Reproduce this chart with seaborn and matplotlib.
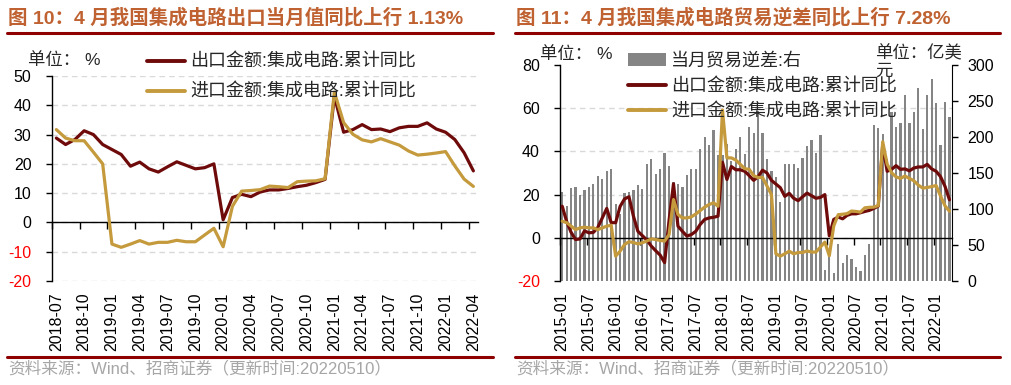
import numpy as np
import pandas as pd
import seaborn as sns
import matplotlib.pyplot as plt
from matplotlib.lines import Line2D
from matplotlib.patches import Patch

sns.set_style('white')
plt.rcParams['font.family'] = ['Liberation Sans', 'Noto Sans CJK SC']

# ---------------- data ----------------
# fig 10: 2018-07 .. 2022-04, cumulative yoy (%)
months_10 = pd.period_range('2018-07', '2022-04', freq='M').strftime('%Y-%m')
exp_10 = [28.8, 26.6, 28.3, 31.3, 30.0, 26.6, 24.9, 23.2, 19.2, 20.6,
          18.3, 17.2, 19.0, 20.7, 19.5, 18.3, 18.7, 20.0, 0.9, 8.5,
          9.6, 8.8, 10.4, 11.1, 11.1, 11.6, 12.2, 12.7, 13.6, 14.7,
          43.1, 30.8, 31.7, 33.4, 31.7, 31.9, 31.0, 32.3, 32.8, 32.8,
          34.0, 31.9, 30.8, 28.3, 23.8, 17.6]
imp_10 = [31.7, 28.8, 27.9, 27.9, 24.0, 20.0, -7.4, -8.5, -7.4, -6.2,
          -7.4, -6.8, -6.8, -6.1, -6.6, -6.6, -4.3, -2.0, -8.3, 5.5,
          10.7, 10.9, 11.2, 12.4, 12.2, 11.9, 13.9, 14.1, 14.2, 14.9,
          44.5, 34.1, 30.1, 28.2, 27.5, 28.6, 27.5, 26.4, 24.4, 23.0,
          23.3, 23.7, 24.2, 19.3, 14.8, 12.3]
ticks_10 = ['2018-07', '2018-10', '2019-01', '2019-04', '2019-07', '2019-10',
            '2020-01', '2020-04', '2020-07', '2020-10', '2021-01', '2021-04',
            '2021-07', '2021-10', '2022-01', '2022-04']

# fig 11: 2015-01 .. 2022-04 (from 2018-07 on same series as fig 10)
months_11 = pd.period_range('2015-01', '2022-04', freq='M').strftime('%Y-%m')
exp_11_early = [14.6, 7.5, 2.5, -0.8, -0.5, 3.2, 2.3, 2.5, 4.8, 9.2,
                13.6, 7.0, 7.0, 14.5, 18.0, 19.0, 10.0, 3.0, 1.0, -1.0,
                -3.8, -6.0, -8.0, -11.5, 8.0, 25.0, 5.4, 3.0, 0.8, 1.5,
                3.0, 6.2, 8.5, 9.2, 9.5, 10.0, 35.0, 27.0, 33.0, 31.5,
                31.5, 30.8]
imp_11_early = [7.7, 7.0, 5.4, 3.8, 4.6, 4.9, 4.6, 4.6, 3.8, 4.6,
                5.4, 5.8, -8.5, -6.2, -3.1, -1.8, -2.2, -2.8, -2.3, -1.5,
                -0.5, -0.8, -1.2, -1.5, 1.5, 17.7, 10.8, 9.2, 9.2, 9.7,
                11.0, 12.6, 14.2, 15.4, 16.2, 14.6, 59.2, 37.0, 37.0, 36.0,
                34.0, 32.0]
exp_11 = exp_11_early + exp_10
imp_11 = imp_11_early + imp_10
# monthly trade deficit (100m USD, right axis)
deficit_11 = [124, 104, 129, 131, 119, 126, 131, 135, 146, 142, 153, 155,
              107, 93, 122, 124, 127, 133, 128, 163, 170, 149, 156, 178,
              160, 138, 135, 131, 147, 156, 155, 184, 200, 189, 210, 175,
              175, 190, 167, 183, 200, 177, 214, 206, 236, 205, 170, 153,
              145, 110, 163, 163, 163, 157, 171, 187, 196, 178, 203,
              15, 35, 11, 52, 25, 36, 31, 19, 14, 36, 52,
              217, 213, 204, 170, 235, 214, 219, 259, 219, 235, 268, 211,
              258, 280, 247, 189, 249, 228]
ticks_11 = ['2015-01', '2015-07', '2016-01', '2016-07', '2017-01', '2017-07',
            '2018-01', '2018-07', '2019-01', '2019-07', '2020-01', '2020-07',
            '2021-01', '2021-07', '2022-01']

EXP_C = '#6E0A0A'
IMP_C = '#C49A3C'
BAR_C = '#858585'
TITLE_C = '#BF6130'
RULE_C = '#8E0000'
GRID_C = '#D9D9D9'

W, H = 1011, 385
fig = plt.figure(figsize=(W / 100, H / 100), dpi=100)


def px_box(x0, y0, x1, y1):
    return [x0 / W, 1 - y1 / H, (x1 - x0) / W, (y1 - y0) / H]


def style_axis(ax, yticks, n, step, labels):
    ax.set_xlim(-0.5, n - 0.5)
    ax.set_ylim(yticks[0], yticks[-1])
    ax.set_yticks(yticks)
    ax.set_yticklabels([str(v) for v in yticks])
    for lab, v in zip(ax.get_yticklabels(), yticks):
        lab.set_color('red' if v < 0 else 'black')
    ax.set_xticks(np.arange(0, n, step))
    ax.set_xticklabels(labels, rotation=90)
    ax.tick_params(axis='x', length=0, pad=8.5, labelsize=11.5, colors='black')
    ax.tick_params(axis='y', left=True, length=4, width=1, direction='out',
                   pad=10.5, labelsize=11.5, color='black')
    for s in ['top', 'right', 'bottom']:
        ax.spines[s].set_visible(False)
    ax.spines['left'].set_color('black')
    ax.spines['left'].set_linewidth(1)
    ax.set_xlabel('')
    ax.set_ylabel('')
    # zero line with category boundary ticks
    frac = (0 - yticks[0]) / (yticks[-1] - yticks[0])
    sec = ax.secondary_xaxis(frac)
    sec.set_zorder(1.8)
    sec.set_xticks(np.arange(-0.5, n - 1, step))
    sec.set_xticklabels([])
    sec.tick_params(axis='x', bottom=True, length=5, width=1, direction='out',
                    color='black')
    sec.spines['bottom'].set_color('black')
    sec.spines['bottom'].set_linewidth(1)


# ---------------- fig 10 ----------------
ax1 = fig.add_axes(px_box(51.7, 76, 478, 281))
x10 = np.arange(len(months_10))
ax1.yaxis.grid(True, ls=(0, (4, 3)), color=GRID_C, lw=1, zorder=0.5)
ax1.set_axisbelow(True)
sns.lineplot(x=x10, y=exp_10, ax=ax1, color=EXP_C, lw=2.3, zorder=3)
sns.lineplot(x=x10, y=imp_10, ax=ax1, color=IMP_C, lw=2.3, zorder=3)
style_axis(ax1, list(range(-20, 51, 10)), len(months_10), 3, ticks_10)

h_exp = Line2D([], [], color=EXP_C, lw=2.8)
h_imp = Line2D([], [], color=IMP_C, lw=2.8)
ax1.legend([h_exp, h_imp], ['出口金额:集成电路:累计同比', '进口金额:集成电路:累计同比'],
           loc='upper left', bbox_to_anchor=(147 / W, 1 - 54 / H),
           bbox_transform=fig.transFigure, frameon=False, fontsize=13,
           borderpad=0, borderaxespad=0, handlelength=2.1, handletextpad=0.3,
           labelspacing=0.72)
fig.text(28 / W, 1 - 60 / H, '单位： %', fontsize=12.5, va='center', ha='left')

# ---------------- fig 11 ----------------
ax = fig.add_axes(px_box(560, 65, 951.7, 281))
ax2 = ax.twinx()
x11 = np.arange(len(months_11))
sns.barplot(x=x11, y=deficit_11, ax=ax2, color=BAR_C, saturation=1,
            width=0.5, linewidth=0)
ax.set_zorder(ax2.get_zorder() + 1)
ax.patch.set_visible(False)

yt_l = list(range(-20, 81, 20))
yt_r = list(range(0, 301, 50))
ax2.set_ylim(yt_r[0], yt_r[-1])
ax2.set_yticks(yt_r)
ax2.set_yticklabels([str(v) for v in yt_r])
# grid follows left-axis ticks, drawn behind the bars
ax2.set_yticks([(v - yt_l[0]) * 3 for v in yt_l], minor=True)
ax2.yaxis.grid(True, which='minor', ls=(0, (4, 3)), color=GRID_C, lw=1)
ax2.yaxis.grid(False, which='major')
ax2.set_axisbelow(True)
ax2.tick_params(axis='y', which='minor', length=0)
ax2.tick_params(axis='y', which='major', right=True, length=4, width=1,
                direction='out', pad=7.5, labelsize=11.5, colors='black')
for s in ['top', 'left', 'bottom']:
    ax2.spines[s].set_visible(False)
ax2.spines['right'].set_color('black')
ax2.set_ylabel('')

sns.lineplot(x=x11, y=exp_11, ax=ax, color=EXP_C, lw=2.3, zorder=3)
sns.lineplot(x=x11, y=imp_11, ax=ax, color=IMP_C, lw=2.3, zorder=3)
style_axis(ax, yt_l, len(months_11), 6, ticks_11)

h_bar = Patch(color=BAR_C, lw=0)
ax.legend([h_bar, h_exp, h_imp],
          ['当月贸易逆差:右', '出口金额:集成电路:累计同比', '进口金额:集成电路:累计同比'],
          loc='upper left', bbox_to_anchor=(628 / W, 1 - 53 / H),
          bbox_transform=fig.transFigure, frameon=False, fontsize=13,
          borderpad=0, borderaxespad=0, handlelength=2.1, handletextpad=0.3,
          labelspacing=0.45)
fig.text(540 / W, 1 - 54 / H, '单位： %', fontsize=12.5, va='center', ha='left')
fig.text(875 / W, 1 - 45 / H, '单位：亿美\n元', fontsize=12.5, va='top', ha='left',
         linespacing=1.2)

# ---------------- titles, rules, source ----------------
fig.text(8 / W, 1 - 18 / H, '图 10：4 月我国集成电路出口当月值同比上行 1.13%',
         fontsize=14, fontweight='bold', color=TITLE_C, va='center')
fig.text(516 / W, 1 - 18 / H, '图 11：4 月我国集成电路贸易逆差同比上行 7.28%',
         fontsize=14, fontweight='bold', color=TITLE_C, va='center')
for x0, x1 in [(7, 493), (515, 1000)]:
    for y in (33, 357):
        fig.add_artist(Line2D([x0 / W, x1 / W], [1 - y / H] * 2, color=RULE_C,
                              lw=2.2, transform=fig.transFigure))
src = '资料来源：Wind、招商证券（更新时间:20220510）'
fig.text(8 / W, 1 - 368 / H, src, fontsize=12, color='#A6A6A6', va='center')
fig.text(516 / W, 1 - 368 / H, src, fontsize=12, color='#A6A6A6', va='center')

fig.savefig('out.png', dpi=100)
